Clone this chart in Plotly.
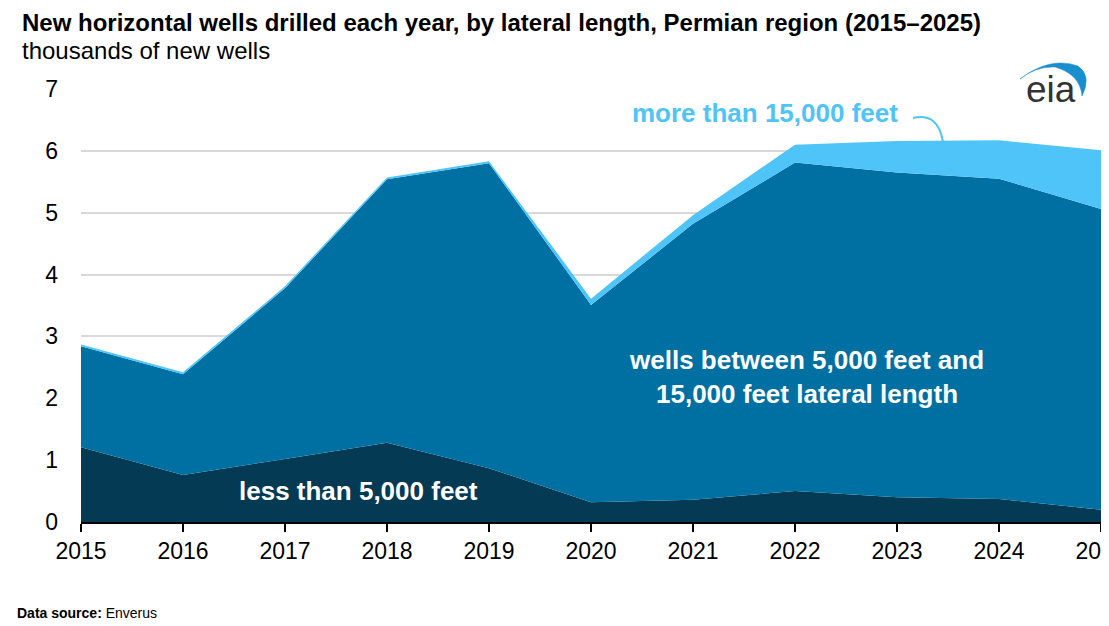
import plotly.graph_objects as go

# thousands of new horizontal wells, Permian region
years = [2015, 2016, 2017, 2018, 2019, 2020, 2021, 2022, 2023, 2024, 2025]
less_5k = [1.21, 0.76, 1.02, 1.28, 0.87, 0.32, 0.36, 0.50, 0.40, 0.37, 0.20]
between_5k_15k = [1.63, 1.63, 2.76, 4.26, 4.93, 3.19, 4.46, 5.31, 5.25, 5.18, 4.86]
more_15k = [0.03, 0.03, 0.03, 0.03, 0.03, 0.10, 0.14, 0.29, 0.51, 0.62, 0.95]

y_ticks = [0, 1, 2, 3, 4, 5, 6, 7]

W, H = 1109, 626
OFF = 8  # page body margin, figure sits 8px right/down
L, R, T, B = 81 - OFF, 16, 89 - OFF, 112
FONT = "Arial, Liberation Sans, sans-serif"

DARK = "#053a55"
MID = "#0070a2"
LIGHT = "#4fc4f8"


def px(x, y):
    # page pixel position -> paper coords
    x, y = x - OFF, y - OFF
    return (x - L) / (W - L - R), (H - B - y) / (H - T - B)


fig = go.Figure()
for name, vals, col in [("less than 5,000 feet", less_5k, DARK),
                        ("5,000-15,000 feet", between_5k_15k, MID),
                        ("more than 15,000 feet", more_15k, LIGHT)]:
    fig.add_trace(go.Scatter(
        x=years, y=vals, name=name, stackgroup="one",
        mode="lines", line=dict(width=0, color=col), fillcolor=col,
        hoverinfo="x+y+name",
    ))

fig.update_layout(
    width=W, height=H,
    margin=dict(l=L, r=R, t=T, b=B),
    paper_bgcolor="white", plot_bgcolor="white",
    showlegend=False,
    font=dict(family=FONT, color="#000000"),
)

fig.update_xaxes(
    range=[2015, 2025], tickvals=years, ticktext=[str(y) for y in years],
    showgrid=False, showline=True, linecolor="#000000", linewidth=1.5,
    ticks="outside", ticklen=8, tickcolor="#000000", tickwidth=1.5,
    tickfont=dict(size=23, family=FONT), zeroline=False,
    ticklabeloverflow="allow", automargin=False,
)
fig.update_yaxes(
    range=[0, 7], tickvals=y_ticks,
    showgrid=True, gridcolor="#d9d9d9", gridwidth=1.5,
    showline=False, zeroline=False, ticks="",
    ticklabelstandoff=22, automargin=False,
    tickfont=dict(size=23, family=FONT),
)

annots = []
x0, y0 = px(20, 22.5)
annots.append(dict(text="<b>New horizontal wells drilled each year, by lateral length, Permian region (2015–2025)</b>",
                   x=x0, y=y0, xanchor="left", yanchor="middle",
                   font=dict(size=24, family=FONT, color="#000000")))
x0, y0 = px(20, 51)
annots.append(dict(text="thousands of new wells", x=x0, y=y0, xanchor="left", yanchor="middle",
                   font=dict(size=24, family=FONT, color="#000000")))
x0, y0 = px(15, 613)
annots.append(dict(text="<b>Data source:</b> Enverus", x=x0, y=y0, xanchor="left", yanchor="middle",
                   font=dict(size=14, family=FONT, color="#000000")))
x0, y0 = px(765, 113)
annots.append(dict(text="<b>more than 15,000 feet</b>", x=x0, y=y0, xanchor="center", yanchor="middle",
                   font=dict(size=26, family=FONT, color=LIGHT)))
x0, y0 = px(806, 377)
annots.append(dict(text="<b>wells between 5,000 feet and<br>15,000 feet lateral length</b>",
                   x=x0, y=y0, xanchor="center", yanchor="middle", align="center",
                   font=dict(size=26, family=FONT, color="white")))
x0, y0 = px(358, 491)
annots.append(dict(text="<b>less than 5,000 feet</b>", x=x0, y=y0, xanchor="center", yanchor="middle",
                   font=dict(size=26, family=FONT, color="white")))
x0, y0 = px(1051, 90)
annots.append(dict(text="eia", x=x0, y=y0, xanchor="center", yanchor="middle",
                   font=dict(size=37, family=FONT, color="#333333")))
for a in annots:
    a.update(xref="paper", yref="paper", showarrow=False)
fig.update_layout(annotations=annots)


def path(points, cmds):
    s = ""
    for c, p in zip(cmds, points):
        pts = " ".join("%.4f,%.4f" % px(*q) for q in p)
        s += c + " " + pts + " "
    return s


# leader for the top band label
leader = path([[(913, 118)], [(938, 112), (943, 142)]], ["M", "Q"])
# eia logo arc
arc = path([[(1020, 79)], [(1050, 56), (1078, 66)], [(1092, 76), (1082, 96)],
            [(1080, 74), (1055, 67)], [(1036, 66), (1020, 79)]], ["M", "Q", "Q", "Q", "Q"])
fig.update_layout(shapes=[
    dict(type="path", path=leader, xref="paper", yref="paper",
         line=dict(color=LIGHT, width=2)),
    dict(type="path", path=arc + "Z", xref="paper", yref="paper",
         line=dict(color="#1a8fd0", width=0.5), fillcolor="#1a8fd0"),
])

fig.write_html("out.html")
